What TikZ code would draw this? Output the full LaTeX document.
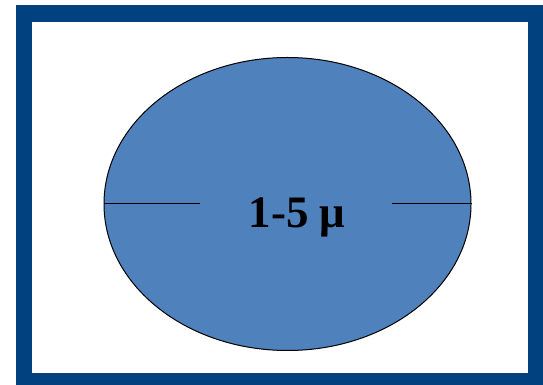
\documentclass[tikz,border=0pt]{standalone}
\usepackage{fontspec}
\setmainfont{Liberation Serif}
\usetikzlibrary{shapes.geometric}
\definecolor{framebl}{RGB}{2,65,128}
\definecolor{cellbl}{RGB}{79,129,189}
\tikzset{
  cellshape/.style={ellipse, draw=black, line width=1pt, fill=cellbl, minimum width=367pt, minimum height=293pt, inner sep=0pt},
  diam/.style={line width=1pt, draw=black},
  lbl/.style={font=\bfseries\fontsize{45}{45}\selectfont, inner sep=0pt, anchor=base}
}
\begin{document}
\begin{tikzpicture}[x=1pt,y=1pt]
\useasboundingbox (0,0) rectangle (543,385);
\fill[white] (0,0) rectangle (543,385);
\fill[framebl] (16,0) rectangle (543,380);
\fill[white] (32,12) rectangle (528,363);
\node[cellshape] (cell) at (287.5,181) {};
\coordinate (la) at (200,181);
\coordinate (ra) at (392,181);
\draw[diam] (cell.west) -- (la);
\draw[diam] (ra) -- (cell.east);
\node[lbl] (size) at (297,157) {1-5 μ};
\end{tikzpicture}
\end{document}
